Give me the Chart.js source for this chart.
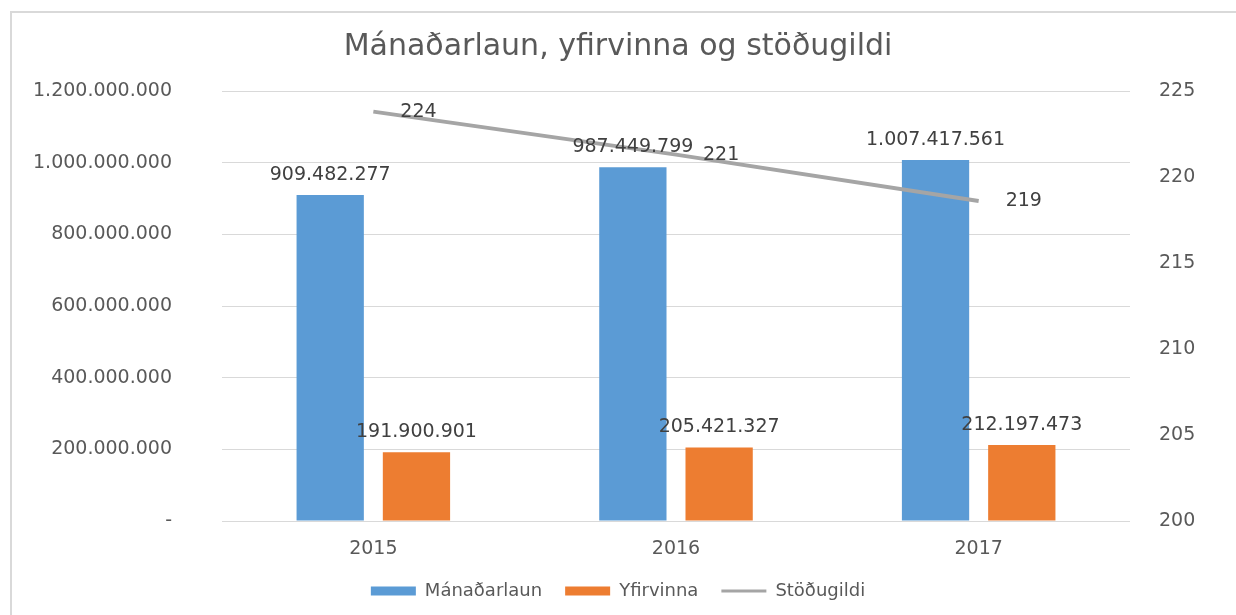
<!DOCTYPE html>
<html>
<head>
<meta charset="utf-8">
<script src="https://cdn.jsdelivr.net/npm/chart.js@4.4.0/dist/chart.umd.min.js"></script>
<style>
  html, body { margin: 0; padding: 0; background: #fff; overflow: hidden; }
  #frame { position: absolute; left: 10px; top: 11px; width: 1226px; height: 604px; border-left: 2px solid #D9D9D9; border-top: 2px solid #D9D9D9; box-sizing: border-box; }
  #chart { position: absolute; left: 0; top: 0; }
</style>
</head>
<body>
<div id="frame"></div>
<canvas id="chart" width="1236" height="615"></canvas>
<script>
// data
const years = ['2015', '2016', '2017'];
const manadarlaun = [909482277, 987449799, 1007417561];
const yfirvinna = [191900901, 205421327, 212197473];
const stodugildi = [223.8, 221.3, 218.6];

const seriesNames = ['Mánaðarlaun', 'Yfirvinna', 'Stöðugildi'];
const chartTitle = 'Mánaðarlaun, yfirvinna og stöðugildi';

// axis ranges
const leftMin = 0, leftMax = 1200000000, leftStep = 200000000;
const rightMin = 200, rightMax = 225, rightStep = 5;

const FONT = 'DejaVu Sans';
const textGray = '#595959';

function fmtThousands(v) {
    if (v === 0) return '-';
    return Math.round(v).toString().replace(/\B(?=(\d{3})+(?!\d))/g, '.');
}

// draws the value labels above bars and next to line points
const valueLabels = {
    id: 'valueLabels',
    afterDatasetsDraw(chart) {
        const ctx = chart.ctx;
        ctx.save();
        ctx.font = '19px "' + FONT + '"';
        ctx.fillStyle = '#404040';
        chart.data.datasets.forEach((ds, i) => {
            const meta = chart.getDatasetMeta(i);
            meta.data.forEach((el, j) => {
                const v = ds.data[j];
                ctx.textBaseline = 'middle';
                if (ds.type === 'line') {
                    ctx.textAlign = 'left';
                    ctx.fillText(String(Math.round(v)), el.x + 27, el.y);
                } else {
                    ctx.textAlign = 'center';
                    ctx.fillText(fmtThousands(v), el.x, el.y - 20);
                }
            });
        });
        ctx.restore();
    }
};

Chart.defaults.font.family = FONT;
Chart.defaults.color = textGray;

const ctx = document.getElementById('chart').getContext('2d');
new Chart(ctx, {
    type: 'bar',
    data: {
        labels: years,
        datasets: [
            {
                label: seriesNames[0],
                data: manadarlaun,
                backgroundColor: '#5B9BD5',
                borderWidth: 0,
                yAxisID: 'y',
                order: 1,
                barPercentage: 0.78,
                categoryPercentage: 0.57
            },
            {
                label: seriesNames[1],
                data: yfirvinna,
                backgroundColor: '#ED7D31',
                borderWidth: 0,
                yAxisID: 'y',
                order: 1,
                barPercentage: 0.78,
                categoryPercentage: 0.57
            },
            {
                type: 'line',
                label: seriesNames[2],
                data: stodugildi,
                borderColor: '#A5A5A5',
                backgroundColor: '#A5A5A5',
                borderWidth: 4,
                pointRadius: 0,
                tension: 0,
                yAxisID: 'y1',
                order: 0
            }
        ]
    },
    options: {
        responsive: false,
        animation: false,
        layout: { padding: { bottom: 5 } },
        plugins: {
            tooltip: { enabled: false },
            title: {
                display: true,
                text: chartTitle,
                color: textGray,
                font: { family: FONT, size: 30, weight: 'normal' },
                padding: { top: 29, bottom: 26 }
            },
            legend: {
                position: 'bottom',
                labels: {
                    color: textGray,
                    font: { family: FONT, size: 18 },
                    usePointStyle: true,
                    pointStyleWidth: 45,
                    boxHeight: 9,
                    padding: 23,
                    sort: (a, b) => a.datasetIndex - b.datasetIndex,
                    generateLabels(chart) {
                        const items = Chart.defaults.plugins.legend.labels.generateLabels(chart);
                        items.forEach(it => {
                            const ds = chart.data.datasets[it.datasetIndex];
                            const isLine = ds.type === 'line';
                            it.pointStyle = isLine ? 'line' : 'rect';
                            it.lineWidth = isLine ? 3 : 0;
                        });
                        return items;
                    }
                }
            }
        },
        scales: {
            x: {
                grid: { display: false },
                border: { display: false },
                ticks: { color: textGray, font: { size: 19 }, padding: 9 },
                afterFit: (scale) => { scale.height = 38; }
            },
            y: {
                position: 'left',
                min: leftMin,
                max: leftMax,
                grid: { color: '#D9D9D9', lineWidth: 1, drawTicks: false },
                border: { display: false },
                ticks: {
                    stepSize: leftStep,
                    color: textGray,
                    font: { size: 19 },
                    padding: 50,
                    callback: (v) => fmtThousands(v)
                },
                afterFit: (scale) => { scale.width = 222; }
            },
            y1: {
                position: 'right',
                min: rightMin,
                max: rightMax,
                grid: { drawOnChartArea: false, drawTicks: false },
                border: { display: false },
                ticks: {
                    stepSize: rightStep,
                    color: textGray,
                    font: { size: 19 },
                    padding: 29
                },
                afterFit: (scale) => { scale.width = 106; }
            }
        }
    },
    plugins: [valueLabels]
});
</script>
</body>
</html>
